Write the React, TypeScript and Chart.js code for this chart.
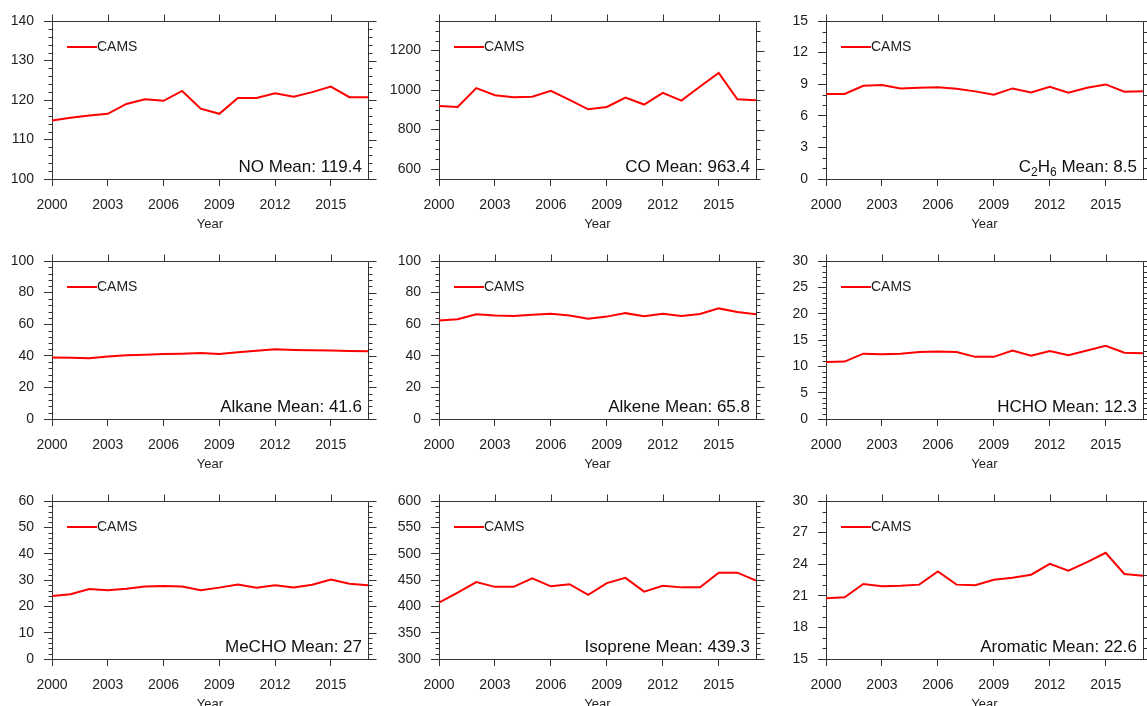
import React, { useEffect, useRef } from 'react';
import { Chart, registerables } from 'chart.js';

Chart.register(...registerables);
Chart.defaults.font.family = "'Liberation Sans', Arial, Helvetica, sans-serif";

// ---------- data ----------
const years = [2000, 2001, 2002, 2003, 2004, 2005, 2006, 2007, 2008, 2009, 2010, 2011, 2012, 2013, 2014, 2015, 2016, 2017];
const yearTicks = [2000, 2003, 2006, 2009, 2012, 2015];
const legendLabel = 'CAMS';
const xAxisTitle = 'Year';

const noValues = [114.8, 115.5, 116.1, 116.5, 119.0, 120.2, 119.8, 122.3, 117.8, 116.5, 120.5, 120.5, 121.7, 120.8, 122.0, 123.4, 120.7, 120.7];
const coValues = [920, 915, 1010, 974, 964, 967, 996, 951, 903, 915, 962, 927, 986, 947, 1018, 1087, 954, 949];
const c2h6Values = [8.07, 8.07, 8.85, 8.92, 8.6, 8.67, 8.7, 8.57, 8.32, 8.0, 8.6, 8.22, 8.76, 8.19, 8.67, 8.98, 8.29, 8.32];
const alkaneValues = [39.0, 38.7, 38.5, 39.5, 40.3, 40.7, 41.1, 41.3, 41.7, 41.1, 42.2, 43.2, 44.1, 43.7, 43.5, 43.4, 43.1, 42.9];
const alkeneValues = [62.3, 63.2, 66.3, 65.5, 65.2, 66.0, 66.6, 65.5, 63.4, 64.8, 67.0, 65.0, 66.6, 65.2, 66.5, 70.0, 67.7, 66.3];
const hchoValues = [10.8, 10.9, 12.4, 12.3, 12.4, 12.7, 12.8, 12.7, 11.8, 11.8, 13.0, 12.0, 12.9, 12.1, 13.0, 13.9, 12.6, 12.5];
const mechoValues = [23.9, 24.6, 26.6, 26.1, 26.7, 27.5, 27.7, 27.5, 26.1, 27.1, 28.3, 27.1, 28.0, 27.2, 28.2, 30.2, 28.6, 28.0];
const isopreneValues = [407, 426, 446, 437, 437, 453, 438, 442, 422, 444, 454, 428, 439, 436, 436, 464, 464, 449];
const aromaticValues = [20.77, 20.86, 22.12, 21.9, 21.96, 22.06, 23.32, 22.06, 22.0, 22.53, 22.72, 23.0, 24.04, 23.38, 24.2, 25.08, 23.07, 22.9];

const seriesList = [noValues, coValues, c2h6Values, alkaneValues, alkeneValues, hchoValues, mechoValues, isopreneValues, aromaticValues];
const speciesNames = ['NO', 'CO', 'C2H6', 'Alkane', 'Alkene', 'HCHO', 'MeCHO', 'Isoprene', 'Aromatic'];
const meanLabels = ['119.4', '963.4', '8.5', '41.6', '65.8', '12.3', '27', '439.3', '22.6'];

const yMins = [100, 550, 0, 0, 0, 0, 0, 300, 15];
const yMaxs = [140, 1350, 15, 100, 100, 30, 60, 600, 30];
const yTickLists = [
  [100, 110, 120, 130, 140],
  [600, 800, 1000, 1200],
  [0, 3, 6, 9, 12, 15],
  [0, 20, 40, 60, 80, 100],
  [0, 20, 40, 60, 80, 100],
  [0, 5, 10, 15, 20, 25, 30],
  [0, 10, 20, 30, 40, 50, 60],
  [300, 350, 400, 450, 500, 550, 600],
  [15, 18, 21, 24, 27, 30],
];
const yMinorSteps = [2, 50, 1, 4, 4, 1, 2, 10, 1];

// ---------- layout ----------
const colLefts = [52, 439, 826];
const colWidths = [316, 317, 317];
const rowTops = [21, 261, 501];
const plotHeight = 158;
const PAD_L = 52;
const PAD_T = 20;
const PAD_R = 15;
const PAD_B = 53;

const AXIS_COLOR = '#333';
const TEXT_COLOR = '#1e1e1e';
const LINE_COLOR = '#ff0000';
const FONT = "'Liberation Sans', Arial, Helvetica, sans-serif";

function al(v: number) {
  return Math.round(v) + 0.5;
}

function Panel({ idx }: { idx: number }) {
  const ref = useRef<HTMLCanvasElement>(null);
  const col = idx % 3;
  const row = Math.floor(idx / 3);
  const w = colWidths[col] + PAD_L + PAD_R;
  const h = plotHeight + PAD_T + PAD_B;

  useEffect(() => {
    if (!ref.current) return;
    const yMin = yMins[idx];
    const yMax = yMaxs[idx];
    const yTicks = yTickLists[idx];
    const minorStep = yMinorSteps[idx];

    const framePlugin = {
      id: 'frame' + idx,
      afterDraw(chart: any) {
        const ctx = chart.ctx as CanvasRenderingContext2D;
        const { left, right, top, bottom } = chart.chartArea;
        const xs = chart.scales.x;
        const ys = chart.scales.y;
        ctx.save();
        ctx.strokeStyle = AXIS_COLOR;
        ctx.lineWidth = 1;
        ctx.beginPath();
        // top & right border
        ctx.moveTo(al(left), al(top));
        ctx.lineTo(al(right), al(top));
        ctx.moveTo(al(right), al(top));
        ctx.lineTo(al(right), al(bottom));
        // top major ticks
        yearTicks.forEach((v) => {
          const px = al(xs.getPixelForValue(v));
          ctx.moveTo(px, al(top));
          ctx.lineTo(px, al(top) - 7);
        });
        // right major ticks
        yTicks.forEach((v) => {
          const py = al(ys.getPixelForValue(v));
          ctx.moveTo(al(right), py);
          ctx.lineTo(al(right) + 8, py);
        });
        // minor ticks left & right
        const n = Math.round((yMax - yMin) / minorStep);
        for (let k = 0; k <= n; k++) {
          const v = yMin + k * minorStep;
          if (yTicks.some((t) => Math.abs(t - v) < 1e-9)) continue;
          const py = al(ys.getPixelForValue(v));
          ctx.moveTo(al(left) - 4, py);
          ctx.lineTo(al(left), py);
          ctx.moveTo(al(right), py);
          ctx.lineTo(al(right) + 4, py);
        }
        ctx.stroke();

        // legend
        const ly = top + 26;
        ctx.strokeStyle = LINE_COLOR;
        ctx.lineWidth = 2;
        ctx.beginPath();
        ctx.moveTo(left + 15, ly);
        ctx.lineTo(left + 45, ly);
        ctx.stroke();
        ctx.fillStyle = TEXT_COLOR;
        ctx.font = `14px ${FONT}`;
        ctx.textAlign = 'left';
        ctx.textBaseline = 'middle';
        ctx.fillText(legendLabel, left + 45, ly);

        // mean label (right aligned, digits in species name as subscripts)
        const name = speciesNames[idx];
        const parts: { t: string; sub: boolean }[] = [];
        name.split(/(\d+)/).forEach((p) => {
          if (p.length) parts.push({ t: p, sub: /^\d+$/.test(p) });
        });
        parts.push({ t: ' Mean: ' + meanLabels[idx], sub: false });
        const bigFont = `17px ${FONT}`;
        const subFont = `12px ${FONT}`;
        let total = 0;
        parts.forEach((p) => {
          ctx.font = p.sub ? subFont : bigFont;
          total += ctx.measureText(p.t).width;
        });
        let cx = right - 6 - total;
        const by = bottom - 7;
        ctx.textBaseline = 'alphabetic';
        ctx.fillStyle = '#111';
        parts.forEach((p) => {
          ctx.font = p.sub ? subFont : bigFont;
          ctx.fillText(p.t, cx, p.sub ? by + 4 : by);
          cx += ctx.measureText(p.t).width;
        });
        ctx.restore();
      },
    };

    const chart = new Chart(ref.current, {
      type: 'line',
      data: {
        datasets: [
          {
            label: legendLabel,
            data: years.map((x, i) => ({ x, y: seriesList[idx][i] })),
            borderColor: LINE_COLOR,
            backgroundColor: LINE_COLOR,
            borderWidth: 2,
            pointRadius: 0,
            tension: 0,
            fill: false,
          },
        ],
      },
      options: {
        responsive: false,
        animation: false,
        devicePixelRatio: 1,
        layout: { padding: { top: PAD_T, right: PAD_R, left: 0, bottom: 0 } },
        plugins: { legend: { display: false }, tooltip: { enabled: false } },
        scales: {
          x: {
            type: 'linear',
            min: 2000,
            max: 2017,
            afterBuildTicks: (s: any) => {
              s.ticks = yearTicks.map((v) => ({ value: v }));
            },
            afterFit: (s: any) => {
              s.height = PAD_B;
            },
            ticks: {
              callback: (v: any) => String(v),
              color: TEXT_COLOR,
              font: { size: 14 },
              padding: 11,
              maxRotation: 0,
              autoSkip: false,
            },
            grid: { drawOnChartArea: false, tickLength: 7, color: AXIS_COLOR, lineWidth: 1 },
            border: { color: AXIS_COLOR, width: 1 },
            title: { display: true, text: xAxisTitle, color: TEXT_COLOR, font: { size: 13 }, padding: 0 },
          },
          y: {
            type: 'linear',
            min: yMin,
            max: yMax,
            afterBuildTicks: (s: any) => {
              s.ticks = yTicks.map((v) => ({ value: v }));
            },
            afterFit: (s: any) => {
              s.width = PAD_L;
            },
            ticks: {
              callback: (v: any) => String(v),
              color: TEXT_COLOR,
              font: { size: 14 },
              padding: 10,
              autoSkip: false,
            },
            grid: { drawOnChartArea: false, tickLength: 8, color: AXIS_COLOR, lineWidth: 1 },
            border: { color: AXIS_COLOR, width: 1 },
          },
        },
      } as any,
      plugins: [framePlugin],
    });
    return () => chart.destroy();
  }, [idx]);

  return (
    <canvas
      ref={ref}
      width={w}
      height={h}
      style={{ position: 'absolute', left: colLefts[col] - PAD_L, top: rowTops[row] - PAD_T, width: w, height: h }}
    />
  );
}

export default function App() {
  return (
    <div style={{ position: 'absolute', left: 0, top: 0, width: 1147, height: 706, overflow: 'hidden', background: '#fff' }}>
      {seriesList.map((_, i) => (
        <Panel key={i} idx={i} />
      ))}
    </div>
  );
}
